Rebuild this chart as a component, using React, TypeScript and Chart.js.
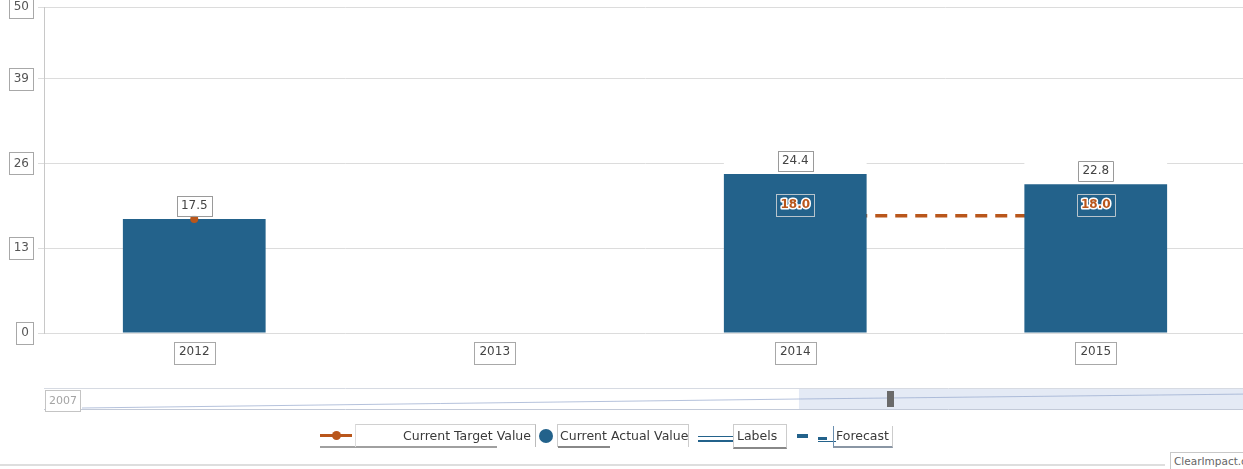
import React, { useEffect, useRef } from 'react';
import { Chart, registerables } from 'chart.js';

Chart.register(...registerables);

// ---- data ----
const categories = ['2012', '2013', '2014', '2015'];
const actualValues: (number | null)[] = [17.5, null, 24.4, 22.8];
const targetValues: (number | null)[] = [17.5, null, 18.0, 18.0];
const forecastFlags = [false, false, true, true];
const yTickValues = [0, 13, 26, 39, 50];
const navigatorStartLabel = '2007';
const legendLabels = ['Current Target Value', 'Current Actual Value', 'Labels', 'Forecast'];
const watermarkText = 'ClearImpact.com';

// ---- styles ----
const W = 1243;
const H = 469;
const CW = 1250;
const BLUE = '#23628b';
const ORANGE = '#b9561b';
const FONT = '"DejaVu Sans", sans-serif';

const boxPlugin = {
  id: 'boxes',
  beforeDatasetsDraw(chart: any) {
    const ctx = chart.ctx;
    const meta = chart.getDatasetMeta(1);
    ctx.save();
    ctx.fillStyle = '#ffffff';
    meta.data.forEach((bar: any, i: number) => {
      if (actualValues[i] == null) return;
      const { x, y, width } = bar.getProps(['x', 'y', 'width'], true);
      ctx.fillRect(x - width / 2, y - 28, width, 28);
    });
    ctx.restore();
  },
  afterDatasetsDraw(chart: any) {
    const ctx = chart.ctx;
    const yScale = chart.scales.y;
    const meta = chart.getDatasetMeta(1);
    ctx.save();
    ctx.font = `12px ${FONT}`;
    ctx.textAlign = 'center';
    ctx.textBaseline = 'middle';
    meta.data.forEach((bar: any, i: number) => {
      const v = actualValues[i];
      if (v == null) return;
      const { x, y } = bar.getProps(['x', 'y'], true);
      const txt = v.toFixed(1);
      const tw = ctx.measureText(txt).width;
      const cy = y - 13;
      ctx.fillStyle = '#fff';
      ctx.fillRect(x - tw / 2 - 4, cy - 10, tw + 8, 20);
      ctx.strokeStyle = '#9a9a9a';
      ctx.lineWidth = 1;
      ctx.strokeRect(Math.round(x - tw / 2 - 4) + 0.5, Math.round(cy - 10) + 0.5, Math.round(tw + 8), 20);
      ctx.fillStyle = '#444';
      ctx.fillText(txt, x, cy);
      // target labels
      const t = targetValues[i];
      if (t != null && Math.abs(t - v) > 2) {
        const ty = yScale.getPixelForValue(t) - 11;
        ctx.font = `bold 12px ${FONT}`;
        const ttxt = t.toFixed(1);
        const ttw = ctx.measureText(ttxt).width;
        ctx.strokeStyle = '#b8c4cc';
        ctx.lineWidth = 1;
        ctx.strokeRect(Math.round(x - ttw / 2 - 4) + 0.5, Math.round(ty - 11) + 0.5, Math.round(ttw + 8), 22);
        ctx.lineJoin = 'round';
        ctx.strokeStyle = '#ffffff';
        ctx.lineWidth = 3;
        ctx.strokeText(ttxt, x, ty);
        ctx.fillStyle = ORANGE;
        ctx.fillText(ttxt, x, ty);
        ctx.font = `12px ${FONT}`;
      }
    });
    ctx.restore();
  },
  afterDraw(chart: any) {
    const ctx = chart.ctx;
    const yScale = chart.scales.y;
    const xScale = chart.scales.x;
    ctx.save();
    ctx.font = `12px ${FONT}`;
    ctx.strokeStyle = '#a8a8a8';
    ctx.lineWidth = 1;
    // y tick boxes
    yScale.ticks.forEach((t: any) => {
      const y = yScale.getPixelForValue(t.value);
      const tw = ctx.measureText(String(t.value)).width;
      const right = 33;
      const left = 29 - tw - 5;
      ctx.strokeRect(Math.round(left) + 0.5, Math.round(y - 11) + 0.5, Math.round(right - left), 22);
    });
    // x tick boxes
    categories.forEach((c, i) => {
      const x = xScale.getPixelForTick(i);
      const tw = ctx.measureText(c).width;
      ctx.strokeRect(Math.round(x - tw / 2 - 5) + 0.5, xScale.top + 9.5, Math.round(tw + 10), 22);
    });

    // navigator (chrome)
    const navTop = 388;
    const navBottom = 409;
    const navLeft = 44;
    const navRight = chart.width;
    const selStart = navLeft + (navRight - navLeft) * 0.626;
    ctx.fillStyle = 'rgba(206,216,236,0.55)';
    ctx.fillRect(selStart, navTop + 1, navRight - selStart, navBottom - navTop - 1);
    ctx.strokeStyle = '#d6dae2';
    ctx.beginPath();
    ctx.moveTo(navLeft, navTop + 0.5);
    ctx.lineTo(navRight, navTop + 0.5);
    ctx.stroke();
    ctx.strokeStyle = '#c3cad8';
    ctx.beginPath();
    ctx.moveTo(navLeft, navBottom + 0.5);
    ctx.lineTo(navRight, navBottom + 0.5);
    ctx.stroke();
    ctx.strokeStyle = 'rgba(150,168,205,0.7)';
    ctx.beginPath();
    ctx.moveTo(82, navBottom - 1);
    ctx.lineTo(selStart, navBottom - 10);
    ctx.lineTo(navRight, navTop + 6);
    ctx.stroke();
    ctx.fillStyle = '#6a6a6a';
    ctx.fillRect(Math.round(selStart + 88), navTop + 3, 7, 16);
    // 2007 label
    ctx.font = `11px ${FONT}`;
    ctx.fillStyle = '#ffffff';
    ctx.fillRect(45, 390, 35, 21);
    ctx.strokeStyle = '#c4c4c4';
    ctx.strokeRect(45.5, 390.5, 35, 21);
    ctx.fillStyle = '#a4a4a4';
    ctx.textAlign = 'center';
    ctx.textBaseline = 'middle';
    ctx.fillText(navigatorStartLabel, 63, 401);
    ctx.restore();
  },
};

export default function App() {
  const ref = useRef<HTMLCanvasElement>(null);

  useEffect(() => {
    const chart = new Chart(ref.current as HTMLCanvasElement, {
      type: 'bar',
      data: {
        labels: categories,
        datasets: [
          {
            type: 'line',
            label: legendLabels[0],
            data: targetValues,
            showLine: false,
            pointRadius: targetValues.map((_, i) => (forecastFlags[i] ? 0 : 4)),
            pointBackgroundColor: ORANGE,
            pointBorderWidth: 0,
            order: 0,
          } as any,
          {
            type: 'bar',
            label: legendLabels[1],
            data: actualValues,
            backgroundColor: BLUE,
            barPercentage: 0.475,
            categoryPercentage: 1,
            order: 1,
          } as any,
          {
            type: 'line',
            label: legendLabels[3],
            data: targetValues.map((v, i) => (forecastFlags[i] ? v : null)),
            borderColor: ORANGE,
            borderWidth: 3.5,
            borderDash: [12, 8],
            pointRadius: 0,
            spanGaps: false,
            order: 2,
          } as any,
        ],
      },
      options: {
        animation: false,
        responsive: false,
        devicePixelRatio: 1,
        layout: { padding: { top: 7, bottom: 106, left: 0, right: 0 } },
        plugins: {
          legend: { display: false },
          tooltip: { enabled: false },
        },
        scales: {
          x: {
            offset: true,
            grid: { display: false, drawTicks: false },
            border: { display: false },
            ticks: { color: '#444', font: { family: FONT, size: 12 }, padding: 12 },
            afterFit: (s: any) => {
              s.height = 30;
            },
          },
          y: {
            min: 0,
            max: 50,
            afterBuildTicks: (s: any) => {
              s.ticks = yTickValues.map((v) => ({ value: v }));
            },
            grid: { color: '#dcdcdc', lineWidth: 1, tickLength: 6, tickColor: '#dcdcdc' },
            border: { color: '#c8c8c8' },
            ticks: { color: '#555', font: { family: FONT, size: 12 }, padding: 9 },
            afterFit: (s: any) => {
              s.width = 44;
              s.paddingTop = 0;
              s.paddingBottom = 0;
            },
          },
        },
      },
      plugins: [boxPlugin],
    });
    return () => chart.destroy();
  }, []);

  const text: React.CSSProperties = {
    position: 'absolute',
    top: 428,
    fontSize: 12.5,
    lineHeight: '16px',
    color: '#3a3a3a',
    whiteSpace: 'nowrap',
  };

  return (
    <div
      style={{
        position: 'absolute',
        left: 0,
        top: 0,
        width: W,
        height: H,
        overflow: 'hidden',
        background: '#fff',
        fontFamily: FONT,
      }}
    >
      <canvas ref={ref} width={CW} height={H} style={{ position: 'absolute', left: 0, top: 0 }} />

      {/* legend */}
      <div style={{ position: 'absolute', left: 320, top: 434, width: 32, height: 3, background: ORANGE }} />
      <div style={{ position: 'absolute', left: 332, top: 431, width: 9, height: 9, borderRadius: 5, background: ORANGE }} />
      <div style={{ position: 'absolute', left: 320, top: 446, width: 177, height: 2, background: '#a0a0a0' }} />
      <div style={{ position: 'absolute', left: 355, top: 424, width: 179, height: 22, borderTop: '1px solid #d0d0d0', borderRight: '1px solid #bbb', borderLeft: '1px solid #ddd' }} />
      <div style={{ ...text, left: 355, width: 176, textAlign: 'right' }}>{legendLabels[0]}</div>

      <div style={{ position: 'absolute', left: 539, top: 429, width: 14, height: 14, borderRadius: 7, background: BLUE }} />
      <div style={{ position: 'absolute', left: 557, top: 424, width: 130, height: 22, border: '1px solid #ccc', borderBottom: 'none' }} />
      <div style={{ position: 'absolute', left: 558, top: 446, width: 52, height: 2, background: '#888' }} />
      <div style={{ ...text, left: 560 }}>{legendLabels[1]}</div>

      <div style={{ position: 'absolute', left: 698, top: 436, width: 35, height: 1, background: BLUE }} />
      <div style={{ position: 'absolute', left: 698, top: 440, width: 35, height: 2, background: BLUE }} />
      <div style={{ position: 'absolute', left: 733, top: 424, width: 52, height: 22, border: '1px solid #ccc', borderBottom: '2px solid #888' }} />
      <div style={{ ...text, left: 737 }}>{legendLabels[2]}</div>

      <div style={{ position: 'absolute', left: 797, top: 434, width: 11, height: 4, background: BLUE }} />
      <div style={{ position: 'absolute', left: 818, top: 437, width: 9, height: 3, background: BLUE }} />
      <div style={{ position: 'absolute', left: 818, top: 441, width: 18, height: 1, background: BLUE }} />
      <div style={{ position: 'absolute', left: 833, top: 426, width: 58, height: 20, borderLeft: '1px solid #6a8fb0', borderRight: '1px solid #ccc', borderBottom: '2px solid #8a96a4' }} />
      <div style={{ ...text, left: 836 }}>{legendLabels[3]}</div>

      {/* footer */}
      <div style={{ position: 'absolute', left: 0, top: 464, width: 1165, height: 2, background: '#dedede' }} />
      <div
        style={{
          position: 'absolute',
          left: 1170,
          top: 452,
          width: 90,
          height: 20,
          border: '1px solid #c8c8c8',
          fontSize: 10.5,
          lineHeight: '17px',
          paddingLeft: 3,
          color: '#666',
          whiteSpace: 'nowrap',
          background: '#fff',
        }}
      >
        {watermarkText}
      </div>
    </div>
  );
}
